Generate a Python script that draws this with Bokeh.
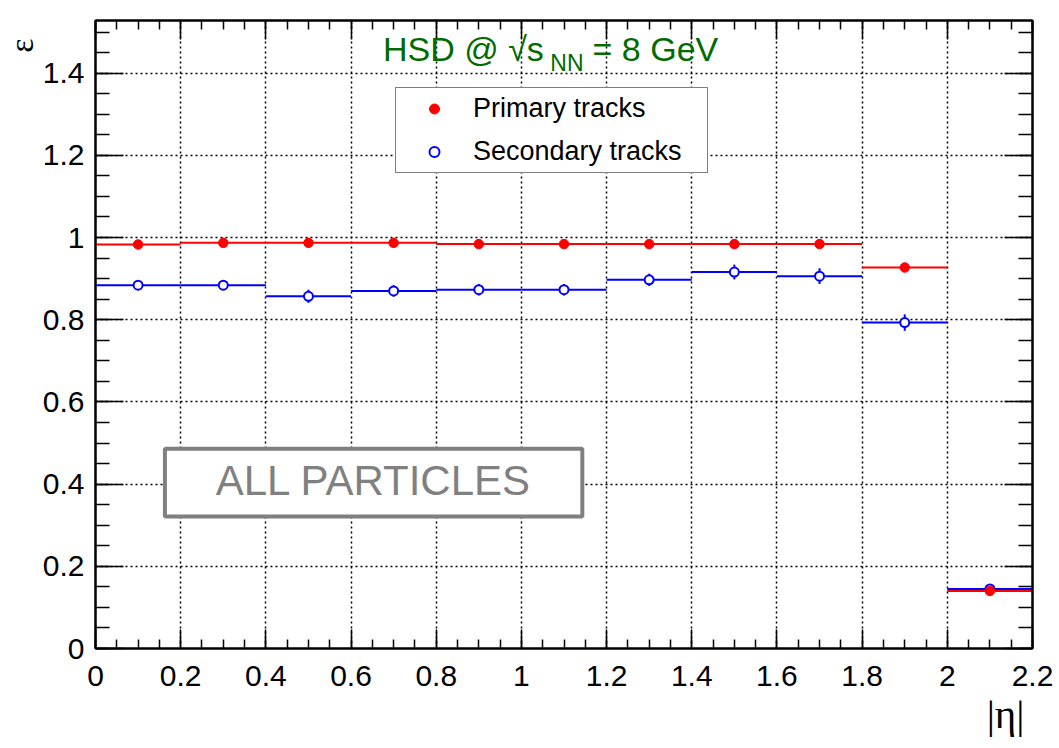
import math
from bokeh.plotting import figure
from bokeh.models import (LinearAxis, SingleIntervalTicker, NumeralTickFormatter,
                          CustomJSTickFormatter, Range1d, Label, BoxAnnotation,
                          Legend, LegendItem, ColumnDataSource, Title)
from bokeh.embed import file_html
from bokeh.resources import INLINE

# ---- data ----
bin_lo = [0.0, 0.2, 0.4, 0.6, 0.8, 1.0, 1.2, 1.4, 1.6, 1.8, 2.0]
bin_hi = [0.2, 0.4, 0.6, 0.8, 1.0, 1.2, 1.4, 1.6, 1.8, 2.0, 2.2]
eta_center = [0.1, 0.3, 0.5, 0.7, 0.9, 1.1, 1.3, 1.5, 1.7, 1.9, 2.1]
primary_eff = [0.983, 0.987, 0.987, 0.987, 0.984, 0.984, 0.984, 0.984, 0.984, 0.927, 0.140]
primary_err = [0.003, 0.003, 0.003, 0.003, 0.003, 0.003, 0.003, 0.003, 0.003, 0.004, 0.005]
secondary_eff = [0.884, 0.884, 0.857, 0.870, 0.873, 0.873, 0.897, 0.916, 0.906, 0.793, 0.145]
secondary_err = [0.012, 0.012, 0.016, 0.014, 0.014, 0.014, 0.015, 0.018, 0.019, 0.020, 0.006]

title_main = "HSD @ \u221as"
title_sub = "NN"
title_tail = "= 8 GeV"
legend_labels = ["Primary tracks", "Secondary tracks"]
box_text = "ALL PARTICLES"
x_title = "|\u03b7|"
y_title = "\u03b5"

RED = "#ff0000"
BLUE = "#0000ff"
GREEN = "#006b00"
GRAY = "#808080"
SANS = "Liberation Sans"
SERIF = "Liberation Serif"

p = figure(width=1059, height=748, x_range=Range1d(0, 2.2), y_range=Range1d(0, 1.528),
           output_backend="svg", toolbar_location=None,
           min_border_left=95, min_border_right=27, min_border_top=20, min_border_bottom=100)
p.background_fill_color = "white"
p.border_fill_color = "white"
p.outline_line_color = "black"
p.outline_line_width = 2


def style_axis(ax, tin, minin, labels=True):
    ax.ticker = SingleIntervalTicker(interval=0.2, num_minor_ticks=4)
    ax.major_tick_in = tin
    ax.major_tick_out = 0
    ax.minor_tick_in = minin
    ax.minor_tick_out = 0
    ax.axis_line_width = 2
    ax.axis_line_color = "black"
    ax.major_tick_line_width = 1.5
    ax.minor_tick_line_width = 1.5
    ax.major_tick_line_color = "black"
    ax.minor_tick_line_color = "black"
    if labels:
        ax.formatter = NumeralTickFormatter(format="0.[0]")
        ax.major_label_text_font = SANS
        ax.major_label_text_font_size = "30px"
        ax.major_label_text_color = "black"
    else:
        ax.formatter = CustomJSTickFormatter(code="return ''")
        ax.major_label_text_font_size = "1px"
        ax.major_label_standoff = 0


xax = p.xaxis[0]
yax = p.yaxis[0]
style_axis(xax, 19, 9)
style_axis(yax, 28, 14)
xax.major_label_standoff = 17
yax.major_label_standoff = 11

top_ax = LinearAxis()
style_axis(top_ax, 19, 9, labels=False)
p.add_layout(top_ax, "above")
right_ax = LinearAxis()
style_axis(right_ax, 28, 14, labels=False)
p.add_layout(right_ax, "right")

for g, ax in ((p.xgrid[0], xax), (p.ygrid[0], yax)):
    g.ticker = ax.ticker
    g.grid_line_color = "black"
    g.grid_line_dash = "2 3"
    g.grid_line_width = 1.5

src = ColumnDataSource(dict(
    lo=bin_lo, hi=bin_hi, xc=eta_center,
    pe=primary_eff, pe_lo=[v - e for v, e in zip(primary_eff, primary_err)],
    pe_hi=[v + e for v, e in zip(primary_eff, primary_err)],
    se=secondary_eff, se_lo=[v - e for v, e in zip(secondary_eff, secondary_err)],
    se_hi=[v + e for v, e in zip(secondary_eff, secondary_err)],
))

# secondary (blue, open circles)
p.segment(x0="lo", x1="hi", y0="se", y1="se", source=src, line_color=BLUE, line_width=2)
p.segment(x0="xc", x1="xc", y0="se_lo", y1="se_hi", source=src, line_color=BLUE, line_width=2)
r_sec = p.scatter(x="xc", y="se", source=src, marker="circle", size=9,
                  fill_color="white", line_color=BLUE, line_width=2)

# primary (red, filled circles)
p.segment(x0="lo", x1="hi", y0="pe", y1="pe", source=src, line_color=RED, line_width=2)
p.segment(x0="xc", x1="xc", y0="pe_lo", y1="pe_hi", source=src, line_color=RED, line_width=2)
r_pri = p.scatter(x="xc", y="pe", source=src, marker="circle", size=9.5,
                  fill_color=RED, line_color=RED)

legend = Legend(items=[LegendItem(label=legend_labels[0], renderers=[r_pri]),
                       LegendItem(label=legend_labels[1], renderers=[r_sec])],
                location=(300, 475))
legend.label_text_font = SANS
legend.label_text_font_size = "27px"
legend.label_text_color = "black"
legend.padding = 5
legend.spacing = 12
legend.glyph_width = 66
legend.glyph_height = 25
legend.label_height = 25
legend.label_width = 229
legend.label_standoff = 6
legend.border_line_color = "black"
legend.border_line_width = 1.5
legend.background_fill_color = "white"
legend.background_fill_alpha = 1
p.add_layout(legend, "center")

# title (HSD @ sqrt(s_NN) = 8 GeV)
p.add_layout(Label(x=0.675, y=1.458, text=title_main, text_font=SANS, text_font_size="34px",
                   text_color=GREEN, text_baseline="alphabetic"))
p.add_layout(Label(x=1.068, y=1.424, text=title_sub, text_font=SANS, text_font_size="23px",
                   text_color=GREEN, text_baseline="alphabetic"))
p.add_layout(Label(x=1.167, y=1.458, text=title_tail, text_font=SANS, text_font_size="34px",
                   text_color=GREEN, text_baseline="alphabetic"))

# ALL PARTICLES box
p.add_layout(BoxAnnotation(left=0.163, right=1.143, bottom=0.321, top=0.486,
                           fill_color="white", fill_alpha=1, line_color=GRAY,
                           line_alpha=1, line_width=4))
p.add_layout(Label(x=0.653, y=0.408, text=box_text, text_font=SANS, text_font_size="42px",
                   text_color=GRAY, text_align="center", text_baseline="alphabetic"))

# axis titles
p.add_layout(Title(text=x_title, align="right", text_font=SERIF, text_font_size="41px",
                   text_font_style="normal", text_color="black", offset=8, standoff=0),
             "below")
p.add_layout(Title(text=y_title, align="right", text_font=SERIF, text_font_size="34px",
                   text_font_style="normal", text_color="black", offset=18, standoff=0),
             "left")

open("out.html", "w").write(file_html(p, INLINE))
